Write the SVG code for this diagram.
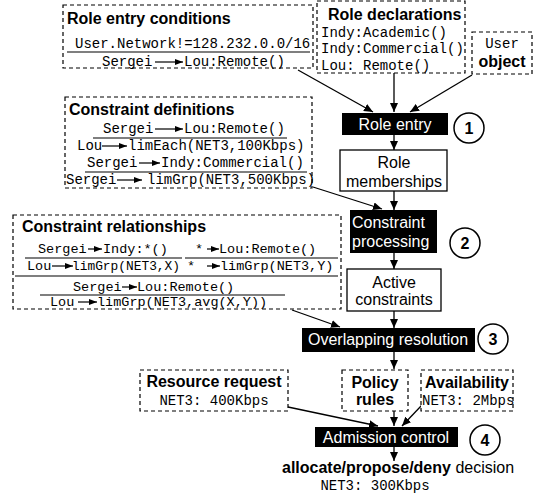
<svg xmlns="http://www.w3.org/2000/svg" width="535" height="497" viewBox="0 0 535 497">
<style>
.dash{fill:#fff;stroke:#000;stroke-width:1.2;stroke-dasharray:4,3}
.blk{fill:#000}
.wbox{fill:#fff;stroke:#000;stroke-width:1.3}
.circ{fill:#fff;stroke:#000;stroke-width:1.5}
.t{font-family:"Liberation Sans",Arial,sans-serif;font-size:16px;fill:#000}
.b{font-weight:bold}
.w{fill:#fff}
.m{font-family:"Liberation Mono","Courier New",monospace;font-size:14px;fill:#000}
.s{font-size:13.5px}
.ul{stroke:#000;stroke-width:1.2}
.con{stroke:#000;stroke-width:1.3;fill:none;marker-end:url(#ah)}
.ia{stroke:#000;stroke-width:1.2;fill:none;marker-end:url(#sa)}
</style>
<defs>
<marker id="ah" markerUnits="userSpaceOnUse" markerWidth="9" markerHeight="8" refX="9" refY="4" orient="auto"><path d="M0,0 L9,4 L0,8 z" fill="#000"/></marker>
<marker id="sa" markerUnits="userSpaceOnUse" markerWidth="8" markerHeight="6" refX="8" refY="3" orient="auto"><path d="M0,0 L8,3 L0,6 z" fill="#000"/></marker>
</defs>
<rect width="535" height="497" fill="#fff"/>

<g id="connectors">
<line class="con" x1="298" y1="70" x2="373" y2="112"/>
<line class="con" x1="394" y1="73" x2="394" y2="112"/>
<line class="con" x1="472" y1="75" x2="410" y2="112"/>
<line class="con" x1="394" y1="135" x2="394" y2="150"/>
<line class="con" x1="313" y1="187" x2="382" y2="209"/>
<line class="con" x1="394" y1="191" x2="394" y2="210"/>
<line class="con" x1="394" y1="253" x2="394" y2="269"/>
<line class="con" x1="292" y1="310" x2="340" y2="327"/>
<line class="con" x1="394" y1="311" x2="394" y2="328"/>
<line class="con" x1="394" y1="352" x2="394" y2="369"/>
<line class="con" x1="288" y1="407" x2="378" y2="426"/>
<line class="con" x1="394" y1="411" x2="394" y2="426"/>
<line class="con" x1="422" y1="405" x2="402" y2="426"/>
<line class="con" x1="394" y1="447" x2="394" y2="461"/>
</g>

<g id="role-entry-conditions">
<rect class="dash" x="63" y="5" width="250" height="63"/>
<text class="t b" x="67" y="24">Role entry conditions</text>
<text class="m" x="75" y="48">User.Network!=128.232.0.0/16</text>
<line class="ul" x1="67" y1="52" x2="310" y2="52"/>
<text class="m" x="102" y="66">Sergei</text>
<line class="ia" x1="155" y1="62" x2="183" y2="62"/>
<text class="m" x="184" y="66">Lou:Remote()</text>
</g>

<g id="role-declarations">
<rect class="dash" x="317" y="1" width="148" height="72"/>
<text class="t b" x="328" y="20">Role declarations</text>
<text class="m" x="321" y="37">Indy:Academic()</text>
<text class="m" x="321" y="53">Indy:Commercial()</text>
<text class="m" x="321" y="70">Lou: Remote()</text>
</g>

<g id="user-object">
<rect class="dash" x="472" y="32" width="60" height="42"/>
<text class="m" x="502" y="48" text-anchor="middle">User</text>
<text class="t b" x="502" y="67" text-anchor="middle">object</text>
</g>

<g id="role-entry">
<rect class="blk" x="342" y="113" width="106" height="22"/>
<text class="t w" x="395" y="130" text-anchor="middle">Role entry</text>
<circle class="circ" cx="469" cy="128" r="15"/>
<text class="t b" x="469" y="134" text-anchor="middle">1</text>
</g>

<g id="role-memberships">
<rect class="wbox" x="340" y="150" width="107" height="41"/>
<text class="t" x="394" y="168" text-anchor="middle">Role</text>
<text class="t" x="394" y="187" text-anchor="middle">memberships</text>
</g>

<g id="constraint-definitions">
<rect class="dash" x="65" y="97" width="247" height="91"/>
<text class="t b" x="69" y="115">Constraint definitions</text>
<text class="m" x="103" y="133">Sergei</text>
<line class="ia" x1="155" y1="129" x2="183" y2="129"/>
<text class="m" x="184" y="133">Lou:Remote()</text>
<line class="ul" x1="93" y1="138" x2="287" y2="138"/>
<text class="m" x="77" y="150">Lou</text>
<line class="ia" x1="102" y1="146" x2="127" y2="146"/>
<text class="m" x="128" y="150">limEach(NET3,100Kbps)</text>
<text class="m" x="87" y="167">Sergei</text>
<line class="ia" x1="139" y1="163" x2="160" y2="163"/>
<text class="m" x="161" y="167">Indy:Commercial()</text>
<line class="ul" x1="85" y1="172" x2="307" y2="172"/>
<text class="m" x="66" y="184">Sergei</text>
<line class="ia" x1="117" y1="180" x2="142" y2="180"/>
<text class="m" x="147" y="184">limGrp(NET3,500Kbps)</text>
</g>

<g id="constraint-processing">
<rect class="blk" x="350" y="210" width="87" height="43"/>
<text class="t w" x="352" y="228">Constraint</text>
<text class="t w" x="352" y="247">processing</text>
<circle class="circ" cx="465" cy="243" r="15"/>
<text class="t b" x="465" y="249" text-anchor="middle">2</text>
</g>

<g id="constraint-relationships">
<rect class="dash" x="13" y="215" width="328" height="94"/>
<text class="t b" x="22" y="232">Constraint relationships</text>
<text class="m s" x="38" y="253">Sergei</text>
<line class="ia" x1="88" y1="249" x2="102" y2="249"/>
<text class="m s" x="103" y="253">Indy:*()</text>
<text class="m s" x="195" y="253">*</text>
<line class="ia" x1="207" y1="249" x2="219" y2="249"/>
<text class="m s" x="219" y="253">Lou:Remote()</text>
<line class="ul" x1="25" y1="258" x2="182" y2="258"/>
<line class="ul" x1="185" y1="258" x2="338" y2="258"/>
<text class="m s" x="27" y="270">Lou</text>
<line class="ia" x1="52" y1="266" x2="73" y2="266"/>
<text class="m s" x="72" y="270" textLength="108" lengthAdjust="spacingAndGlyphs">limGrp(NET3,X)</text>
<text class="m s" x="187" y="270">*</text>
<line class="ia" x1="207" y1="266" x2="220" y2="266"/>
<text class="m s" x="220" y="270">limGrp(NET3,Y)</text>
<line class="ul" x1="15" y1="276" x2="338" y2="276"/>
<text class="m s" x="73" y="291">Sergei</text>
<line class="ia" x1="122" y1="287" x2="137" y2="287"/>
<text class="m s" x="137" y="291">Lou:Remote()</text>
<line class="ul" x1="40" y1="295" x2="285" y2="295"/>
<text class="m s" x="50" y="306">Lou</text>
<line class="ia" x1="78" y1="302" x2="97" y2="302"/>
<text class="m s" x="97" y="306">limGrp(NET3,avg(X,Y))</text>
</g>

<g id="active-constraints">
<rect class="wbox" x="347" y="269" width="94" height="42"/>
<text class="t" x="394" y="288" text-anchor="middle">Active</text>
<text class="t" x="394" y="305" text-anchor="middle">constraints</text>
</g>

<g id="overlapping-resolution">
<rect class="blk" x="302" y="328" width="173" height="24"/>
<text class="t w" x="388" y="345" text-anchor="middle">Overlapping resolution</text>
<circle class="circ" cx="493" cy="339" r="15"/>
<text class="t b" x="493" y="345" text-anchor="middle">3</text>
</g>

<g id="resource-request">
<rect class="dash" x="140" y="370" width="148" height="41"/>
<text class="t b" x="214" y="387" text-anchor="middle">Resource request</text>
<text class="m" x="214" y="405" text-anchor="middle">NET3: 400Kbps</text>
</g>

<g id="policy-rules">
<rect class="dash" x="342" y="370" width="66" height="41"/>
<text class="t b" x="375" y="388" text-anchor="middle">Policy</text>
<text class="t b" x="375" y="405" text-anchor="middle">rules</text>
</g>

<g id="availability">
<rect class="dash" x="421" y="370" width="92" height="41"/>
<text class="t b" x="467" y="388" text-anchor="middle">Availability</text>
<text class="m" x="422" y="405">NET3: 2Mbps</text>
</g>

<g id="admission-control">
<rect class="blk" x="315" y="427" width="143" height="20"/>
<text class="t w" x="386" y="443" text-anchor="middle">Admission control</text>
<circle class="circ" cx="485" cy="440" r="15"/>
<text class="t b" x="485" y="446" text-anchor="middle">4</text>
</g>

<g id="decision">
<text class="t" x="282" y="473"><tspan class="b">allocate/propose/deny</tspan> decision</text>
<text class="m" x="375" y="490" text-anchor="middle">NET3: 300Kbps</text>
</g>
</svg>
